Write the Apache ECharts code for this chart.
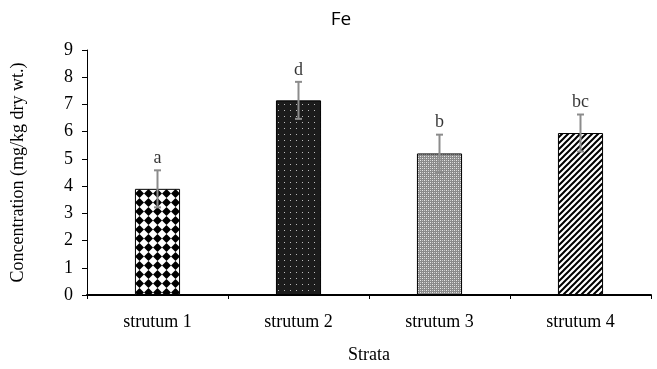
<!DOCTYPE html>
<html>
<head>
<meta charset="utf-8">
<script src="https://cdn.jsdelivr.net/npm/echarts@6/dist/echarts.min.js"></script>
<style>
  html, body { margin: 0; padding: 0; background: #fff; }
  #chart { width: 657px; height: 369px; }
</style>
</head>
<body>
<div id="chart"></div>
<script>
// 数据
const categories = ["strutum 1", "strutum 2", "strutum 3", "strutum 4"];
const values = [3.9, 7.15, 5.2, 5.95];
const errors = [0.68, 0.68, 0.69, 0.68];
const letters = ["a", "d", "b", "bc"];
const yTicks = [0, 1, 2, 3, 4, 5, 6, 7, 8, 9];

// 填充图案
function makeTile(w, h, draw) {
    const c = document.createElement("canvas");
    c.width = w;
    c.height = h;
    draw(c.getContext("2d"), w, h);
    return c;
}

const diamondTile = makeTile(9, 9, (ctx, w, h) => {
    ctx.fillStyle = "#fff";
    ctx.fillRect(0, 0, w, h);
    ctx.fillStyle = "#000";
    ctx.beginPath();
    ctx.moveTo(w / 2, 0);
    ctx.lineTo(w, h / 2);
    ctx.lineTo(w / 2, h);
    ctx.lineTo(0, h / 2);
    ctx.closePath();
    ctx.fill();
});

const dotTile = makeTile(6, 6, (ctx, w, h) => {
    ctx.fillStyle = "#1c1c1c";
    ctx.fillRect(0, 0, w, h);
    ctx.fillStyle = "#bbb";
    ctx.fillRect(2, 2, 1, 1);
});

const hatchTile = makeTile(4, 4, (ctx, w, h) => {
    ctx.fillStyle = "#8a8a8a";
    ctx.fillRect(0, 0, w, h);
    ctx.fillStyle = "#e8e8e8";
    ctx.fillRect(0, 0, 1, 1);
    ctx.fillRect(2, 2, 1, 1);
    ctx.fillStyle = "#c8c8c8";
    ctx.fillRect(2, 0, 1, 1);
    ctx.fillRect(0, 2, 1, 1);
});

const stripeTile = makeTile(6, 6, (ctx, w, h) => {
    ctx.fillStyle = "#fff";
    ctx.fillRect(0, 0, w, h);
    ctx.strokeStyle = "#000";
    ctx.lineWidth = 2;
    ctx.beginPath();
    ctx.moveTo(-1, h + 1);
    ctx.lineTo(w + 1, -1);
    ctx.moveTo(-1, 1);
    ctx.lineTo(1, -1);
    ctx.moveTo(w - 1, h + 1);
    ctx.lineTo(w + 1, h - 1);
    ctx.stroke();
});

const tiles = [diamondTile, dotTile, hatchTile, stripeTile];

const serif = "'Liberation Serif', 'DejaVu Serif', serif";

const chart = echarts.init(document.getElementById("chart"));
chart.setOption({
    animation: false,
    title: {
        text: "Fe",
        left: 336,
        top: 5,
        textAlign: "center",
        textStyle: {
            fontFamily: "Open Sans",
            fontWeight: "normal",
            fontSize: 19,
            color: "#000",
        },
    },
    grid: {
        left: 87,
        right: 6,
        top: 50,
        bottom: 73,
    },
    xAxis: {
        type: "category",
        data: categories,
        name: "Strata",
        nameLocation: "middle",
        nameGap: 51,
        nameTextStyle: { fontFamily: serif, fontSize: 18, color: "#000" },
        axisLine: { lineStyle: { color: "#000", width: 2 } },
        axisTick: { show: true, length: 4, lineStyle: { color: "#000", width: 1 } },
        axisLabel: { fontFamily: serif, fontSize: 18, color: "#000", margin: 18 },
    },
    yAxis: {
        type: "value",
        min: 0,
        max: 9,
        interval: 1,
        name: "Concentration (mg/kg dry wt.)",
        nameLocation: "middle",
        nameGap: 60,
        nameTextStyle: { fontFamily: serif, fontSize: 18, color: "#000" },
        axisLine: { show: true, lineStyle: { color: "#000", width: 1 } },
        axisTick: { show: true, length: 5, lineStyle: { color: "#000" } },
        axisLabel: {
            fontFamily: serif,
            fontSize: 18,
            color: "#000",
            margin: 14,
            formatter: (v) => (yTicks.includes(v) ? String(v) : ""),
        },
        splitLine: { show: false },
    },
    series: [
        {
            type: "bar",
            barWidth: "32%",
            data: values.map((v, i) => ({
                value: v,
                itemStyle: {
                    color: { image: tiles[i], repetition: "repeat" },
                    borderColor: "#000",
                    borderWidth: 1,
                },
            })),
        },
        {
            // 误差线
            type: "custom",
            data: values.map((v, i) => [i, v - errors[i], v + errors[i]]),
            z: 5,
            renderItem(params, api) {
                const lo = api.coord([api.value(0), api.value(1)]);
                const hi = api.coord([api.value(0), api.value(2)]);
                const cap = 3.5;
                const style = { stroke: "#8c8c8c", lineWidth: 2 };
                return {
                    type: "group",
                    children: [
                        { type: "line", shape: { x1: hi[0], y1: hi[1], x2: lo[0], y2: lo[1] }, style },
                        { type: "line", shape: { x1: hi[0] - cap, y1: hi[1], x2: hi[0] + cap, y2: hi[1] }, style },
                        { type: "line", shape: { x1: lo[0] - cap, y1: lo[1], x2: lo[0] + cap, y2: lo[1] }, style },
                    ],
                };
            },
        },
        {
            // 显著性字母
            type: "scatter",
            symbolSize: 0,
            data: values.map((v, i) => [i, v + errors[i]]),
            label: {
                show: true,
                position: "top",
                distance: 3,
                fontFamily: serif,
                fontSize: 18,
                color: "#000",
                formatter: (p) => letters[p.dataIndex],
            },
        },
    ],
});
</script>
</body>
</html>
